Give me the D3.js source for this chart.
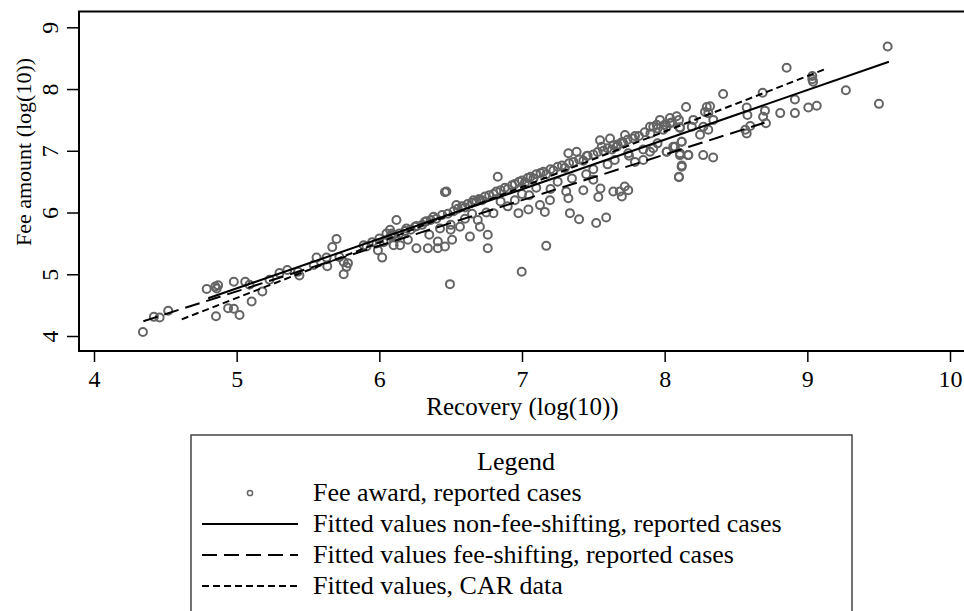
<!DOCTYPE html>
<html>
<head>
<meta charset="utf-8">
<script src="https://cdn.jsdelivr.net/npm/d3@7"></script>
<style>
    body { margin: 0; background: #fff; }
    svg { display: block; font-family: "Liberation Serif", "Times New Roman", serif; }
</style>
</head>
<body>
<svg id="vis" width="964" height="611"></svg>
<script>
// values (log10 recovery, log10 fee)
const feeAwards = [
    [4.343,4.065],[4.42,4.31],[4.46,4.30],[4.52,4.41],[4.79,4.76],[4.85,4.80],[4.87,4.82],[4.86,4.77],
    [4.855,4.32],[4.94,4.45],[4.98,4.44],[5.02,4.34],[4.98,4.88],[5.06,4.88],[5.09,4.83],[5.105,4.56],
    [5.18,4.72],[5.23,4.91],[5.30,5.02],[5.355,5.07],[5.43,5.04],[5.44,4.98],[5.54,5.15],[5.56,5.27],
    [5.63,5.27],[5.635,5.13],[5.70,5.57],[5.67,5.44],[5.72,5.28],[5.75,5.20],[5.78,5.18],[5.77,5.12],
    [5.75,5.00],[5.89,5.47],[5.91,5.45],[5.98,5.50],[6.02,5.27],[5.99,5.39],[6.05,5.55],[6.10,5.47],
    [6.11,5.61],[6.09,5.66],
    [6.05,5.66],[6.10,5.64],[6.12,5.88],[6.075,5.72],[6.145,5.47],[6.19,5.74],[6.26,5.42],[6.25,5.77],
    [6.32,5.85],[6.34,5.42],[6.38,5.93],[6.41,5.42],[6.425,5.74],[6.41,5.53],[6.46,5.45],[6.50,5.72],
    [6.51,5.56],[6.47,6.34],[6.46,6.33],[6.495,4.84],[6.565,5.77],[6.54,6.12],[6.635,5.61],[6.69,5.88],
    [6.705,5.77],[6.76,5.64],[6.76,5.42],[6.80,5.99],[6.705,6.20],[6.66,6.20],[6.83,6.58],[6.975,5.99],
    [7.045,6.05],[6.998,5.04],[7.126,6.12],[7.16,6.01],[7.196,6.20],[7.17,5.46],[7.336,5.99],[7.40,5.89],
    [7.52,5.83],[7.59,5.92],[7.325,6.23],[7.31,6.34],[7.43,6.36],[7.50,6.53],[7.55,6.39],[7.535,6.25],
    [7.64,6.34],[7.685,6.34],[7.72,6.42],[7.745,6.36],[7.70,6.26],[7.325,6.96],[7.383,6.985],[7.454,6.915],
    [7.547,7.17],[7.559,7.066],[7.617,7.20],[7.664,7.066],[7.722,7.256],[7.792,7.24],[7.71,7.12],[7.64,7.09],
    [7.745,6.96],[7.792,6.82],[7.85,6.85],[7.897,7.39],[7.944,7.42],[8.014,7.39],[8.107,7.38],[8.119,7.147],
    [8.072,7.066],[8.107,6.96],[8.165,6.93],[8.119,6.74],[8.10,6.57],[8.014,6.985],
    [8.855,8.346],[9.035,8.21],[9.04,8.12],[9.035,8.16],[8.41,7.92],[8.687,7.94],[8.575,7.70],[8.58,7.58],
    [8.703,7.65],[8.69,7.55],[8.71,7.445],[8.81,7.61],[8.913,7.83],[8.913,7.61],[9.007,7.70],[9.066,7.73],
    [9.27,7.98],[9.502,7.76],[9.563,8.69],[8.565,7.34],[8.575,7.28],[8.60,7.40],[8.27,6.93],[8.34,6.89],
    [8.166,6.93],[8.12,6.76],[8.10,6.58],[8.107,6.93],[8.15,7.71],[8.295,7.71],[8.318,7.72],[8.283,7.63],
    [8.306,7.61],[8.341,7.50],[8.201,7.50],[8.19,7.39],[8.248,7.26],[8.271,7.39],[8.306,7.34],[7.967,7.50],
    [8.037,7.53],[8.084,7.56],[8.107,7.37],[7.92,7.39],[7.99,7.34],[8.037,7.445],[8.06,7.066],[8.014,6.985],
    [8.119,7.147],[7.92,7.04],[7.897,6.985],
    [5.95,5.52],[6.0,5.58],[6.03,5.52],[6.08,5.62],[6.14,5.66],[6.18,5.70],[6.22,5.72],[6.26,5.78],
    [6.3,5.80],[6.33,5.86],[6.36,5.88],[6.4,5.90],[6.44,5.96],[6.48,5.98],[6.52,6.02],[6.55,6.06],
    [6.58,6.10],[6.6,6.08],[6.62,6.14],[6.65,6.16],[6.68,6.18],[6.7,6.22],[6.72,6.20],[6.74,6.26],
    [6.77,6.28],[6.8,6.30],[6.82,6.34],[6.85,6.36],[6.88,6.40],[6.9,6.38],[6.93,6.44],[6.95,6.46],
    [6.98,6.50],[7.0,6.52],[7.02,6.48],[7.04,6.56],[7.06,6.58],[7.08,6.55],[7.1,6.62],[7.13,6.64],
    [7.15,6.66],[7.17,6.62],[7.2,6.70],[7.22,6.68],[7.25,6.74],[7.28,6.76],[7.3,6.72],[7.33,6.80],
    [7.36,6.82],[7.4,6.86],[7.43,6.84],[7.46,6.92],[7.5,6.94],[7.53,6.98],[7.57,7.00],[7.6,7.04],
    [7.63,7.02],[7.67,7.10],[7.7,7.14],[7.74,7.18],[7.78,7.20],[7.82,7.24],[7.86,7.30],[7.9,7.28],
    [7.95,7.36],[8.0,7.42],[8.05,7.46],[8.1,7.50],
    [6.2,5.56],[6.35,5.64],[6.5,5.80],[6.6,5.90],[6.75,6.00],[6.9,6.10],[6.95,6.20],[7.05,6.28],
    [7.1,6.40],[7.2,6.38],[7.25,6.50],[7.35,6.55],[7.45,6.62],[7.5,6.70],[7.6,6.78],[7.65,6.85],
    [7.75,6.92],[7.85,7.02],[7.95,7.12],[7.0,6.30],[6.85,6.18],[6.65,5.98]
];

// fitted lines, end points
const fitNonFee = [[4.80, 4.611], [9.572, 8.443]];
const fitFeeShift = [[4.346, 4.24], [8.70, 7.455]];
const fitCar = [[4.615, 4.27], [9.128, 8.325]];

const xTicks = [4, 5, 6, 7, 8, 9, 10];
const yTicks = [4, 5, 6, 7, 8, 9];

const legendTitle = "Legend";
const legendLabels = [
    "Fee award, reported cases",
    "Fitted values non-fee-shifting, reported cases",
    "Fitted values fee-shifting, reported cases",
    "Fitted values, CAR data"
];

const svg = d3.select('#vis');

const plot = {left: 79, top: 11.5, right: 966, bottom: 351};

const x = d3.scaleLinear().domain([4, 10]).range([94, 950]);
const y = d3.scaleLinear().domain([4, 9]).range([336, 27.3]);

// frame
svg.append('rect')
    .attr('x', plot.left)
    .attr('y', plot.top)
    .attr('width', plot.right - plot.left)
    .attr('height', plot.bottom - plot.top)
    .attr('fill', 'none')
    .attr('stroke', '#000')
    .attr('stroke-width', 2);

// x axis
const xAxis = d3.axisBottom(x).tickValues(xTicks).tickFormat(d3.format('d'))
    .tickSize(11).tickSizeOuter(0).tickPadding(8);
const gx = svg.append('g')
    .attr('transform', 'translate(0,' + plot.bottom + ')')
    .call(xAxis);
gx.select('.domain').remove();
gx.selectAll('line').attr('stroke', '#000').attr('stroke-width', 1.5);
gx.selectAll('text')
    .attr('font-family', '"Liberation Serif", serif')
    .attr('font-size', 24)
    .attr('fill', '#000');

// y axis, labels turned like the title
const yAxis = d3.axisLeft(y).tickValues(yTicks).tickFormat(d3.format('d'))
    .tickSize(12).tickSizeOuter(0);
const gy = svg.append('g')
    .attr('transform', 'translate(' + plot.left + ',0)')
    .call(yAxis);
gy.select('.domain').remove();
gy.selectAll('line').attr('stroke', '#000').attr('stroke-width', 1.5);
gy.selectAll('text')
    .attr('font-family', '"Liberation Serif", serif')
    .attr('font-size', 24)
    .attr('fill', '#000')
    .attr('text-anchor', 'middle')
    .attr('dy', 0)
    .attr('x', 0)
    .attr('transform', 'translate(-21,0) rotate(-90)');

// axis titles
svg.append('text')
    .attr('x', (plot.left + plot.right) / 2)
    .attr('y', 415)
    .attr('text-anchor', 'middle')
    .attr('font-size', 25)
    .text('Recovery (log(10))');

svg.append('text')
    .attr('transform', 'translate(31,152) rotate(-90)')
    .attr('text-anchor', 'middle')
    .attr('font-size', 22)
    .text('Fee amount (log(10))');

// scatter
svg.append('g')
    .selectAll('circle')
    .data(feeAwards)
    .enter().append('circle')
    .attr('cx', function (d) { return x(d[0]); })
    .attr('cy', function (d) { return y(d[1]); })
    .attr('r', 4)
    .attr('fill', 'none')
    .attr('stroke', '#646464')
    .attr('stroke-width', 2);

// fitted lines
const line = d3.line()
    .x(function (d) { return x(d[0]); })
    .y(function (d) { return y(d[1]); });

const fits = [
    {pts: fitFeeShift, dash: '15,7'},
    {pts: fitCar, dash: '7,4'},
    {pts: fitNonFee, dash: null}
];

svg.append('g')
    .selectAll('path')
    .data(fits)
    .enter().append('path')
    .attr('d', function (d) { return line(d.pts); })
    .attr('fill', 'none')
    .attr('stroke', '#000')
    .attr('stroke-width', 2)
    .attr('stroke-dasharray', function (d) { return d.dash; });

// legend
const lg = svg.append('g');
lg.append('rect')
    .attr('x', 191)
    .attr('y', 435)
    .attr('width', 661)
    .attr('height', 200)
    .attr('fill', '#fff')
    .attr('stroke', '#444')
    .attr('stroke-width', 1.5);

lg.append('text')
    .attr('x', 516)
    .attr('y', 470)
    .attr('text-anchor', 'middle')
    .attr('font-size', 26)
    .text(legendTitle);

const rowY = [501, 532, 563, 594];
const legendDash = ['circle', null, '15,7', '7,4'];

legendLabels.forEach(function (label, i) {
    const cy = rowY[i] - 8;
    if (legendDash[i] === 'circle') {
        lg.append('circle')
            .attr('cx', 250)
            .attr('cy', cy)
            .attr('r', 2.6)
            .attr('fill', 'none')
            .attr('stroke', '#666')
            .attr('stroke-width', 1.5);
    } else {
        lg.append('line')
            .attr('x1', 202)
            .attr('x2', 298)
            .attr('y1', cy)
            .attr('y2', cy)
            .attr('stroke', '#000')
            .attr('stroke-width', 2)
            .attr('stroke-dasharray', legendDash[i]);
    }
    lg.append('text')
        .attr('x', 313)
        .attr('y', rowY[i])
        .attr('font-size', 26)
        .text(label);
});
</script>
</body>
</html>
